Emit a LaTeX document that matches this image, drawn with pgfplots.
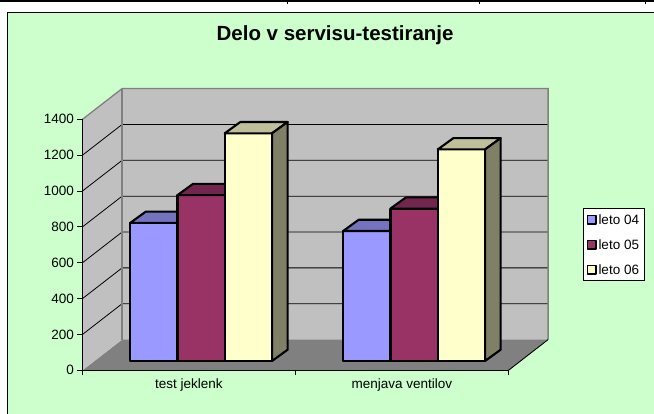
\documentclass[border=0pt]{standalone}
\usepackage{fontspec}
\setmainfont{Liberation Sans}
\usepackage{pgfplots}
\pgfplotsset{compat=1.18}
\usepackage{pgfplotstable}

\definecolor{bg}{HTML}{CCFFCC}
\definecolor{wall}{HTML}{C0C0C0}
\definecolor{floorc}{HTML}{808080}
\definecolor{edgec}{HTML}{808080}
\definecolor{ca}{HTML}{9999FF}
\definecolor{cat}{HTML}{7373BF}
\definecolor{cb}{HTML}{993366}
\definecolor{cbt}{HTML}{73264D}
\definecolor{cc}{HTML}{FFFFCC}
\definecolor{cct}{HTML}{BFBF99}
\definecolor{ccs}{HTML}{808066}

\pgfplotstableread{
x a b c
0.5 770 925 1270
1.5 725 850 1180
}\datatable

\pgfplotsset{
  bar3d/.style={xshift=12.1pt, yshift=9.3pt, draw=black, line width=2.1pt, line join=round},
  mylegend/.style={legend image code/.code={\draw[##1, xshift=-12.1pt, yshift=-9.3pt, line width=1.4pt] (0pt,-4.3pt) rectangle (8.6pt,4.3pt);}},
}

\begin{document}
\begin{tikzpicture}[x=1pt,y=1pt]
\useasboundingbox (0,0) rectangle (654,414);
\fill[white] (0,0) rectangle (654,414);
\fill[bg] (7.5,0) rectangle (654,401.5);
\draw[black,line width=1.5pt] (7.5,-2) -- (7.5,401.5) -- (656,401.5);
\draw[black,line width=1.8pt] (-1,413) -- (655,413);
\draw[black,line width=1pt] (287,413) -- (287,410) (479,413) -- (479,410) (645,413) -- (645,410);

\begin{axis}[
  at={(82.5pt,43.7pt)}, anchor=south west,
  scale only axis, width=426pt, height=251pt,
  xmin=0, xmax=2, ymin=0, ymax=1400,
  clip=false, axis on top, no markers,
  axis x line*=bottom, axis y line*=left,
  axis line style={black, line width=0.9pt},
  tick align=outside, major tick length=5pt,
  tick style={black, line width=0.9pt},
  xtick={0,1,2}, x tick label as interval,
  xticklabels={test jeklenk, menjava ventilov},
  ytick={0,200,...,1400},
  /pgf/number format/assume math mode=true,
  yticklabel style={/pgf/number format/1000 sep={}},
  tick label style={font=\fontsize{13.5}{16}\selectfont, text=black},
  title={Delo v servisu-testiranje},
  title style={at={(0.593,1.292)}, anchor=base, font=\bfseries\fontsize{20.5}{24}\selectfont},
  legend style={at={(1.175,0.647)}, anchor=north west, draw=black, line width=0.9pt,
    fill=white, font=\fontsize{13.5}{16}\selectfont, row sep=11.5pt, inner xsep=3pt, inner ysep=4.5pt,
    nodes={inner ysep=2pt, inner xsep=2pt, text height=9.5pt, text depth=0pt}},
  legend cell align=left,
]
% walls and floor
\addplot[forget plot, fill=wall, draw=none] coordinates {(0.18592,171.23) (2.18592,171.23) (2.18592,1571.23) (0.18592,1571.23)} -- cycle;
\addplot[forget plot, fill=floorc, draw=none] coordinates {(0,0) (2,0) (2.18592,171.23) (0.18592,171.23)} -- cycle;
\addplot[forget plot, fill=wall, draw=none] coordinates {(0,0) (0,1400) (0.18592,1571.23) (0.18592,171.23)} -- cycle;
% grid lines on side and back wall
\addplot[forget plot, black, line width=0.8pt, unbounded coords=jump] coordinates {
 (0,200) (0.18592,371.23) (2.18592,371.23) (nan,nan)
 (0,400) (0.18592,571.23) (2.18592,571.23) (nan,nan)
 (0,600) (0.18592,771.23) (2.18592,771.23) (nan,nan)
 (0,800) (0.18592,971.23) (2.18592,971.23) (nan,nan)
 (0,1000) (0.18592,1171.23) (2.18592,1171.23) (nan,nan)
 (0,1200) (0.18592,1371.23) (2.18592,1371.23)
};
% wall edges
\addplot[forget plot, edgec, line width=1.3pt] coordinates {(0,1400) (0.18592,1571.23) (2.18592,1571.23) (2.18592,171.23)};
\addplot[forget plot, edgec, line width=1.3pt] coordinates {(0.18592,171.23) (0.18592,1571.23)};
\addplot[forget plot, black, line width=0.9pt] coordinates {(2,0) (2.18592,171.23)};

% leto 04
\addplot[ybar, bar3d, bar width=47.3pt, bar shift=-47.3pt, fill=ca, mylegend] table[x=x,y=a]{\datatable};
\addlegendentry{leto 04}
\addplot[forget plot, bar3d, fill=cat] coordinates {(0.16690,770) (0.38897,770) (0.46221,833.03) (0.24014,833.03)} -- cycle;
\addplot[forget plot, bar3d, fill=cat] coordinates {(1.16690,725) (1.38897,725) (1.46221,788.03) (1.24014,788.03)} -- cycle;
% leto 05
\addplot[ybar, bar3d, bar width=47.3pt, bar shift=0pt, fill=cb, mylegend] table[x=x,y=b]{\datatable};
\addlegendentry{leto 05}
\addplot[forget plot, bar3d, fill=cbt] coordinates {(0.38897,925) (0.61103,925) (0.68427,988.03) (0.46221,988.03)} -- cycle;
\addplot[forget plot, bar3d, fill=cbt] coordinates {(1.38897,850) (1.61103,850) (1.68427,913.03) (1.46221,913.03)} -- cycle;
% leto 06
\addplot[ybar, bar3d, bar width=47.3pt, bar shift=47.3pt, fill=cc, mylegend] table[x=x,y=c]{\datatable};
\addlegendentry{leto 06}
\addplot[forget plot, bar3d, fill=cct] coordinates {(0.61103,1270) (0.83310,1270) (0.90634,1333.03) (0.68427,1333.03)} -- cycle;
\addplot[forget plot, bar3d, fill=cct] coordinates {(1.61103,1180) (1.83310,1180) (1.90634,1243.03) (1.68427,1243.03)} -- cycle;
\addplot[forget plot, bar3d, fill=ccs] coordinates {(0.83310,0) (0.83310,1270) (0.90634,1333.03) (0.90634,63.03)} -- cycle;
\addplot[forget plot, bar3d, fill=ccs] coordinates {(1.83310,0) (1.83310,1180) (1.90634,1243.03) (1.90634,63.03)} -- cycle;
\end{axis}
\end{tikzpicture}
\end{document}
